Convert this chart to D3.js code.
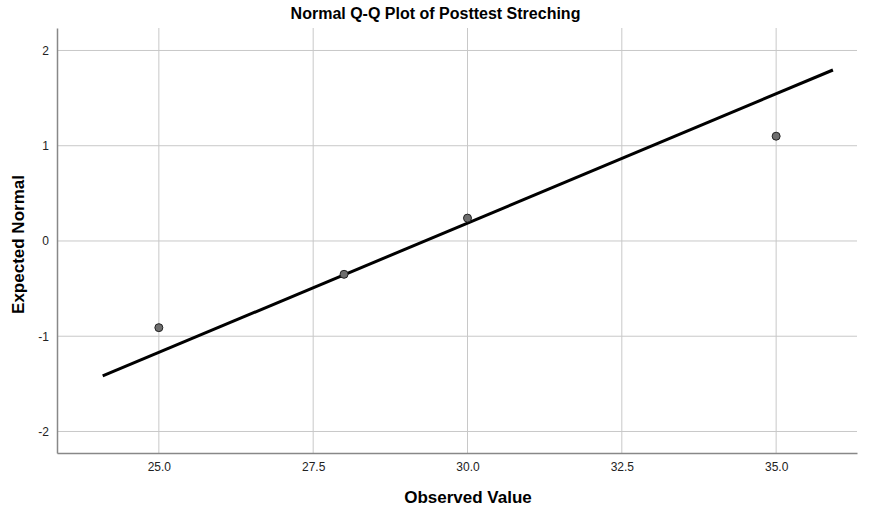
<!DOCTYPE html>
<html>
<head>
<meta charset="utf-8">
<script src="https://cdn.jsdelivr.net/npm/d3@7"></script>
<style>
  body { margin: 0; background: #fff; }
  text { font-family: Arial, "Liberation Sans", sans-serif; }
</style>
</head>
<body>
<div id="root"></div>
<script>
// observed values and their expected normal scores
const observed = [25, 28, 30, 35];
const expected = [-0.91, -0.35, 0.24, 1.10];

// reference line end points (observed, expected)
const lineX = [24.09, 35.92];
const lineY = [-1.417, 1.795];

const xTicks = [25, 27.5, 30, 32.5, 35];
const yTicks = [-2, -1, 0, 1, 2];

const outerWidth = 871;
const outerHeight = 511;
const margin = { top: 28, right: 14, bottom: 58, left: 57 };
const width = outerWidth - margin.left - margin.right;
const height = outerHeight - margin.top - margin.bottom;

const scaleX = d3.scaleLinear().domain([23.35, 36.31]).range([0, width]);
const scaleY = d3.scaleLinear().domain([-2.226, 2.236]).range([height, 0]);

const svg = d3.select("#root")
  .append("svg")
  .attr("width", outerWidth)
  .attr("height", outerHeight);

const chart = svg.append("g")
  .attr("transform", `translate(${margin.left}, ${margin.top})`);

// grid
chart.append("g")
  .selectAll("line")
  .data(xTicks)
  .join("line")
  .attr("x1", d => scaleX(d)).attr("x2", d => scaleX(d))
  .attr("y1", 0).attr("y2", height)
  .attr("stroke", "#c8c8c8").attr("stroke-width", 1);

chart.append("g")
  .selectAll("line")
  .data(yTicks)
  .join("line")
  .attr("y1", d => scaleY(d)).attr("y2", d => scaleY(d))
  .attr("x1", 0).attr("x2", width)
  .attr("stroke", "#c8c8c8").attr("stroke-width", 1);

// axes
const xAxis = d3.axisBottom(scaleX).tickValues(xTicks).tickFormat(d3.format(".1f")).tickSize(0).tickPadding(9);
const yAxis = d3.axisLeft(scaleY).tickValues(yTicks).tickFormat(d => d < 0 ? "-" + Math.abs(d) : d).tickSize(0).tickPadding(8);

chart.append("g")
  .attr("transform", `translate(0, ${height})`)
  .call(xAxis)
  .call(g => g.select(".domain").attr("stroke", "#888").attr("stroke-width", 1.5))
  .selectAll("text").attr("font-size", 12).attr("fill", "#222");

chart.append("g")
  .call(yAxis)
  .call(g => g.select(".domain").attr("stroke", "#888").attr("stroke-width", 1.5))
  .selectAll("text").attr("font-size", 12).attr("fill", "#222");

// reference line
chart.append("line")
  .attr("x1", scaleX(lineX[0])).attr("y1", scaleY(lineY[0]))
  .attr("x2", scaleX(lineX[1])).attr("y2", scaleY(lineY[1]))
  .attr("stroke", "#000").attr("stroke-width", 3);

// points
chart.selectAll(".point")
  .data(observed)
  .join("circle")
  .attr("class", "point")
  .attr("cx", d => scaleX(d))
  .attr("cy", (d, i) => scaleY(expected[i]))
  .attr("r", 4)
  .attr("fill", "#6e6e6e")
  .attr("stroke", "#222")
  .attr("stroke-width", 1);

// titles
svg.append("text")
  .attr("x", outerWidth / 2).attr("y", 19)
  .attr("text-anchor", "middle")
  .attr("font-size", 16).attr("font-weight", "bold")
  .text("Normal Q-Q Plot of Posttest Streching");

svg.append("text")
  .attr("x", margin.left + width / 2 + 11).attr("y", 503)
  .attr("text-anchor", "middle")
  .attr("font-size", 17).attr("font-weight", "bold")
  .text("Observed Value");

svg.append("text")
  .attr("transform", `translate(24, ${margin.top + height / 2 + 4}) rotate(-90)`)
  .attr("text-anchor", "middle")
  .attr("font-size", 17).attr("font-weight", "bold")
  .text("Expected Normal");
</script>
</body>
</html>
